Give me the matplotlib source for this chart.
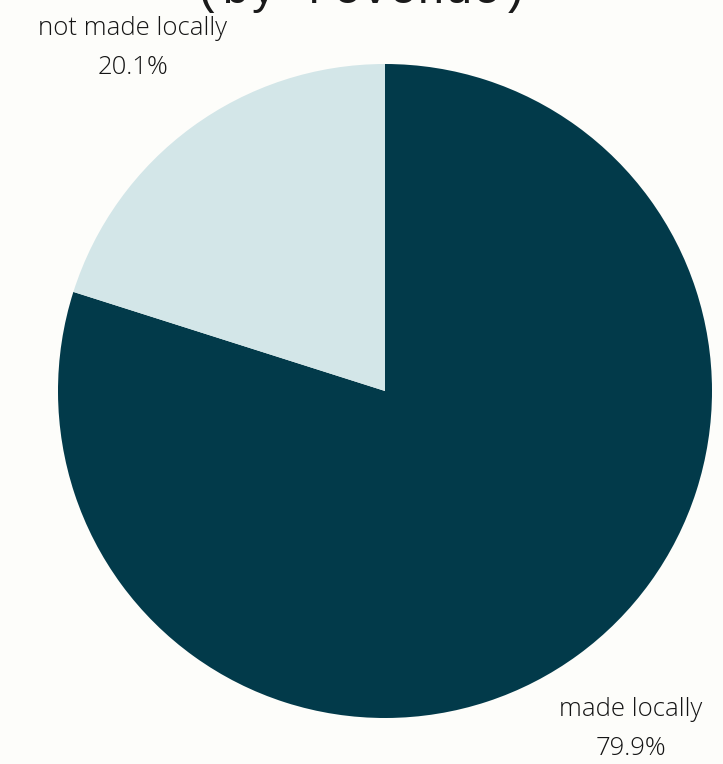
import matplotlib.pyplot as plt

plt.rcParams['font.family'] = ['Open Sans', 'DejaVu Sans']

labels = ['made locally', 'not made locally']
shares = [79.9, 20.1]
colors = ['#023a4a', '#d3e6e8']
title = '(by revenue)'

fig = plt.figure(figsize=(7.23, 7.64), dpi=100)
fig.patch.set_facecolor('#fdfdfa')

# square axes so the pie keeps its proportions
ax = fig.add_axes([58 / 723, 46 / 764, 654 / 723, 654 / 764])
ax.set_facecolor('#fdfdfa')

texts = [f"{name}\n{val}%" for name, val in zip(labels, shares)]
wedges, label_texts = ax.pie(
    shares, labels=texts, colors=colors, startangle=90, counterclock=False,
    labeldistance=1.29, radius=1,
    textprops={'fontsize': 18.5, 'color': '#151515', 'linespacing': 1.75,
               'fontweight': 'light'},
)
for t in label_texts:
    x, y = t.get_position()
    t.set_position((x - 0.009, y + 0.008))
    t.set_ha('center')
    t.set_va('center')
    t.set_clip_on(False)

ax.set_xlim(-1, 1)
ax.set_ylim(-1, 1)
ax.set_aspect('equal')
ax.axis('off')

# subtitle line of the heading, mostly above the top edge
fig.text(0.5, 1 - 3 / 764, title, ha='center', va='baseline',
         fontsize=33.5, family='Liberation Mono', color='#1a1a1a')

fig.savefig('out.png', dpi=100, facecolor=fig.get_facecolor())
